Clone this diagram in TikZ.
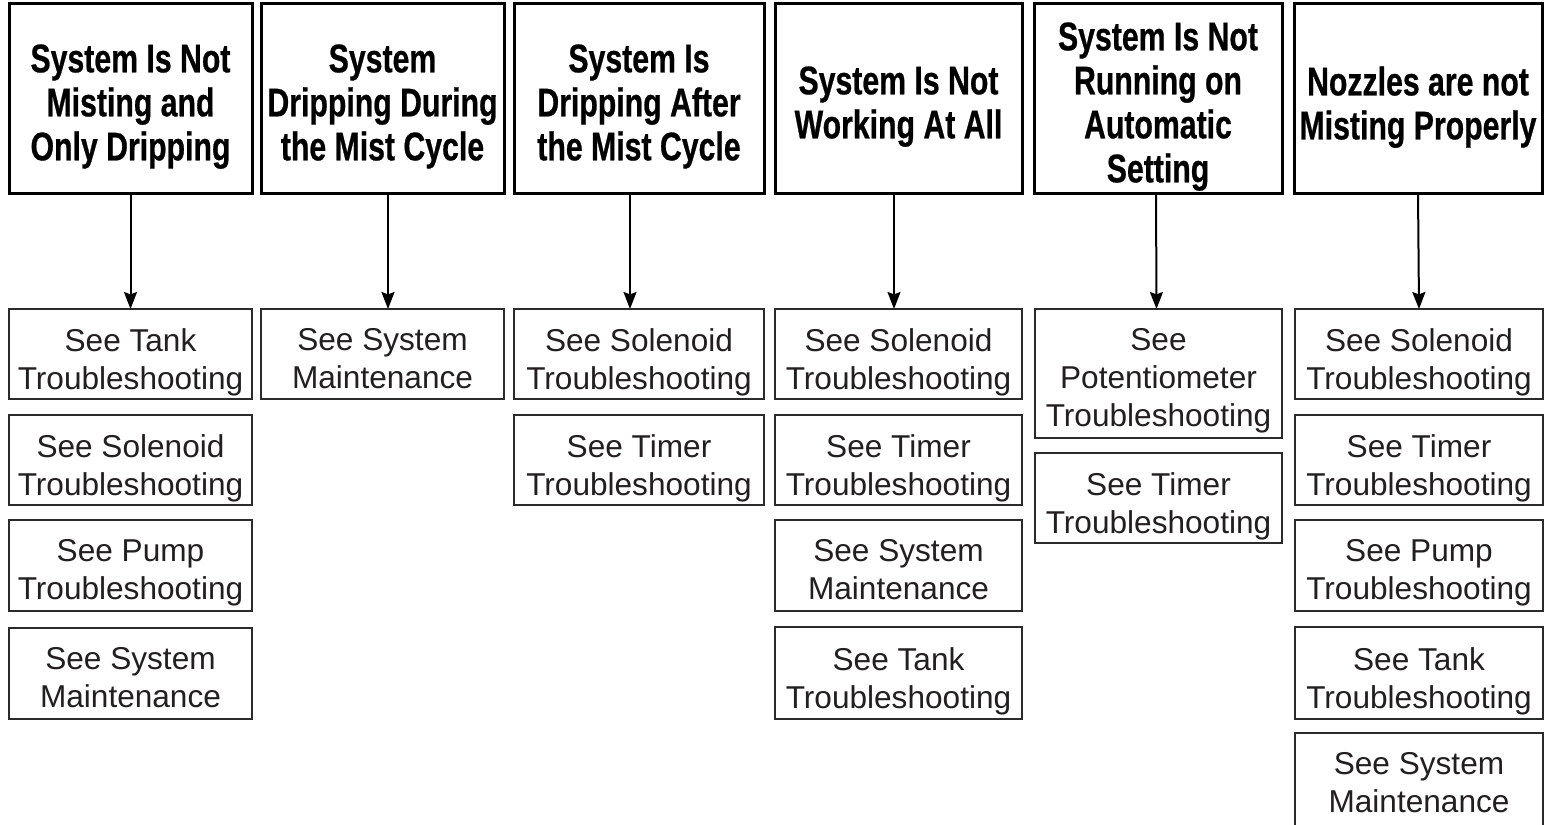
\documentclass[tikz,border=0pt]{standalone}
\usepackage{fontspec}
\setmainfont{Liberation Sans}
\newfontfamily\condfont[FakeStretch=0.756,FakeBold=0.6]{Liberation Sans}
\usetikzlibrary{arrows.meta}
\definecolor{boxgray}{HTML}{2B2B2B}
\definecolor{txtgray}{HTML}{231F20}
\newcommand\bbox[9]{%
  \pgfmathsetmacro\bxcx{(#2+#4)/2}%
  \pgfmathsetmacro\bxcy{(#3+#5)/2}%
  \pgfmathsetmacro\bxw{(#4-#2)*0.5}%
  \pgfmathsetmacro\bxh{(#5-#3)*0.5}%
  \node[#6, minimum width=\bxw pt, minimum height=\bxh pt] (#1) at (\bxcx,\bxcy) {};
  \node[#7] (#1t) at ([yshift=#8pt]#1.center) {#9};}
\tikzset{
  topbox/.style={draw=black, line width=1.5pt, inner sep=0pt, outer sep=0pt, fill=white},
  botbox/.style={draw=boxgray, line width=1.2pt, inner sep=0pt, outer sep=0pt, fill=white},
  toptxt/.style={font=\condfont\bfseries\fontsize{20}{22}\selectfont, text=black, align=center, inner sep=0pt, anchor=north},
  bottxt/.style={font=\fontsize{15.8}{19}\selectfont, text=txtgray, align=center, inner sep=0pt, anchor=north},
  arr/.style={draw=black, line width=1pt, -{Stealth[length=8.5pt,width=6.5pt,inset=1.2pt]}}
}
\begin{document}
\begin{tikzpicture}[x=0.5pt,y=-0.5pt]
\fill[white] (0,0) rectangle (1551,824);
\useasboundingbox (0,0) rectangle (1551,824);
% top boxes
\bbox{t1}{9}{4}{252}{193}{topbox}{toptxt}{27.25}{System Is Not\\Misting and\\Only Dripping}
\bbox{t2}{261}{4}{504}{193}{topbox}{toptxt}{27.25}{System\\Dripping During\\the Mist Cycle}
\bbox{t3}{514}{4}{764}{193}{topbox}{toptxt}{27.25}{System Is\\Dripping After\\the Mist Cycle}
\bbox{t4}{775}{4}{1022}{193}{topbox}{toptxt}{16.25}{System Is Not\\Working At All}
\bbox{t5}{1034}{4}{1282}{193}{topbox}{toptxt}{38.25}{System Is Not\\Running on\\Automatic\\Setting}
\bbox{t6}{1294}{4}{1542}{193}{topbox}{toptxt}{16.25}{Nozzles are not\\Misting Properly}
% column 1
\bbox{b11}{9}{309}{252}{399}{botbox}{bottxt}{13.15}{See Tank\\Troubleshooting}
\bbox{b12}{9}{415}{252}{505}{botbox}{bottxt}{13.15}{See Solenoid\\Troubleshooting}
\bbox{b13}{9}{520}{252}{611}{botbox}{bottxt}{13.15}{See Pump\\Troubleshooting}
\bbox{b14}{9}{628}{252}{719}{botbox}{bottxt}{13.15}{See System\\Maintenance}
% column 2
\bbox{b21}{261}{309}{504}{399}{botbox}{bottxt}{13.15}{See System\\Maintenance}
% column 3
\bbox{b31}{514}{309}{764}{399}{botbox}{bottxt}{13.15}{See Solenoid\\Troubleshooting}
\bbox{b32}{514}{415}{764}{505}{botbox}{bottxt}{13.15}{See Timer\\Troubleshooting}
% column 4
\bbox{b41}{775}{309}{1022}{399}{botbox}{bottxt}{13.15}{See Solenoid\\Troubleshooting}
\bbox{b42}{775}{415}{1022}{505}{botbox}{bottxt}{13.15}{See Timer\\Troubleshooting}
\bbox{b43}{775}{520}{1022}{611}{botbox}{bottxt}{13.15}{See System\\Maintenance}
\bbox{b44}{775}{627}{1022}{719}{botbox}{bottxt}{13.15}{See Tank\\Troubleshooting}
% column 5
\bbox{b51}{1035}{309}{1282}{438}{botbox}{bottxt}{22.65}{See\\Potentiometer\\Troubleshooting}
\bbox{b52}{1035}{453}{1282}{543}{botbox}{bottxt}{13.15}{See Timer\\Troubleshooting}
% column 6
\bbox{b61}{1295}{309}{1543}{399}{botbox}{bottxt}{13.15}{See Solenoid\\Troubleshooting}
\bbox{b62}{1295}{415}{1543}{505}{botbox}{bottxt}{13.15}{See Timer\\Troubleshooting}
\bbox{b63}{1295}{520}{1543}{611}{botbox}{bottxt}{13.15}{See Pump\\Troubleshooting}
\bbox{b64}{1295}{627}{1543}{719}{botbox}{bottxt}{13.15}{See Tank\\Troubleshooting}
\bbox{b65}{1295}{733}{1543}{827}{botbox}{bottxt}{14.15}{See System\\Maintenance}
% arrows
\draw[arr] (t1.south) -- (b11.north);
\draw[arr] ([xshift=2.75pt]t2.south) -- ([xshift=2.75pt]b21.north);
\draw[arr] ([xshift=-4.5pt]t3.south) -- ([xshift=-4.5pt]b31.north);
\draw[arr] ([xshift=-2.25pt]t4.south) -- ([xshift=-2.25pt]b41.north);
\draw[arr] ([xshift=-1pt]t5.south) -- ([xshift=-1pt]b51.north);
\draw[arr] (t6.south) -- (b61.north);
\end{tikzpicture}
\end{document}
